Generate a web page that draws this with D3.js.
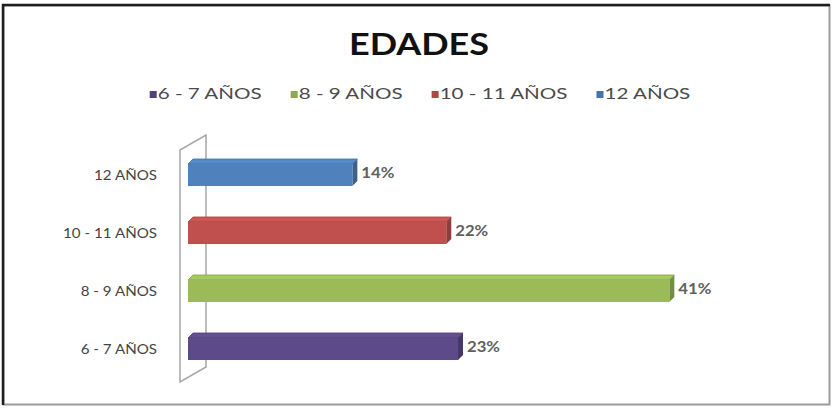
<!DOCTYPE html>
<html>
<head>
<meta charset="utf-8">
<script src="https://cdn.jsdelivr.net/npm/d3@7"></script>
<style>
  body { margin: 0; background: #fff; }
  text { font-family: Lato, "Open Sans", sans-serif; }
</style>
</head>
<body>
<div id="chart"></div>
<script>
// data
var categories = ["6 - 7 AÑOS", "8 - 9 AÑOS", "10 - 11 AÑOS", "12 AÑOS"];
var values = [23, 41, 22, 14];
var colors = ["#5d4a88", "#9bbb59", "#c0504d", "#4f81bd"];
var title = "EDADES";

var svg = d3.select("#chart")
  .append("svg")
  .attr("width", 834)
  .attr("height", 411);

// the picture is stretched sideways, so stretch the text the same way
function stretch(sel, k) {
  sel.each(function() {
    var w = this.getComputedTextLength();
    d3.select(this).attr("textLength", w * k).attr("lengthAdjust", "spacingAndGlyphs");
  });
}

// frame
svg.append("rect")
  .attr("x", 3.5).attr("y", 5.5)
  .attr("width", 826).attr("height", 399)
  .attr("fill", "#fff")
  .attr("stroke", "#9a9a9a")
  .attr("stroke-width", 2);
svg.append("path")
  .attr("d", "M3,405V5H830")
  .attr("fill", "none")
  .attr("stroke", "#1e1e1e")
  .attr("stroke-width", 2.5);

// title
svg.append("text")
  .attr("x", 419).attr("y", 55)
  .attr("text-anchor", "middle")
  .style("font-size", "30px")
  .style("font-weight", "bold")
  .attr("fill", "#111")
  .text(title)
  .call(stretch, 1.2);

var color = d3.scaleOrdinal().domain(categories).range(colors);

// legend
var legend = svg.append("g").attr("class", "legend");
var lx = 0;
categories.forEach(function(c) {
  var g = legend.append("g").attr("transform", "translate(" + lx + ",0)");
  g.append("rect")
    .attr("x", 0).attr("y", -8)
    .attr("width", 7).attr("height", 7)
    .attr("fill", d3.color(color(c)).darker(0.3));
  var t = g.append("text")
    .attr("x", 8).attr("y", 0)
    .style("font-size", "14.5px")
    .attr("fill", "#4a4a4a")
    .text(c)
    .call(stretch, 1.42);
  lx += 8 + +t.attr("textLength") + 29;
});
legend.attr("transform", "translate(" + (420 - (lx - 29) / 2) + ",99)");

// scales
var y = d3.scaleBand()
  .domain(categories.slice().reverse())
  .range([146, 378])
  .paddingInner(0.62)
  .paddingOuter(0.31);

var x = d3.scaleLinear()
  .domain([0, 50])
  .range([188, 188 + 587]);

// back wall
var wall = [[180, 150], [206, 135], [206, 367], [180, 382]];
svg.append("path")
  .attr("d", d3.line()(wall) + "Z")
  .attr("fill", "#fff")
  .attr("stroke", "#a6a6a6")
  .attr("stroke-width", 1.5);

// category axis labels
svg.append("g")
  .selectAll("text")
  .data(categories)
  .enter().append("text")
  .attr("x", 157)
  .attr("y", function(d) { return y(d) + y.bandwidth() / 2 + 5; })
  .attr("text-anchor", "end")
  .style("font-size", "13.5px")
  .attr("fill", "#444")
  .text(function(d) { return d; })
  .call(stretch, 1.12);

// 3d bars
var dx = 5, dy = -5;
var bars = svg.append("g")
  .selectAll("g.bar")
  .data(categories.map(function(c, i) { return {cat: c, value: values[i]}; }))
  .enter().append("g")
  .attr("class", "bar");

bars.append("path") // top
  .attr("d", function(d) {
    var x0 = x(0), x1 = x(d.value), y0 = y(d.cat);
    return "M" + x0 + "," + y0 + "L" + (x0 + dx) + "," + (y0 + dy) +
      "L" + (x1 + dx) + "," + (y0 + dy) + "L" + x1 + "," + y0 + "Z";
  })
  .attr("fill", function(d) { return d3.color(color(d.cat)).brighter(0.2); })
  .attr("stroke", function(d) { return d3.color(color(d.cat)).darker(0.4); })
  .attr("stroke-width", 0.8);

bars.append("path") // side
  .attr("d", function(d) {
    var x1 = x(d.value), y0 = y(d.cat), y1 = y0 + y.bandwidth();
    return "M" + x1 + "," + y0 + "L" + (x1 + dx) + "," + (y0 + dy) +
      "L" + (x1 + dx) + "," + (y1 + dy) + "L" + x1 + "," + y1 + "Z";
  })
  .attr("fill", function(d) { return d3.color(color(d.cat)).darker(0.8); });

bars.append("rect") // front
  .attr("x", x(0))
  .attr("y", function(d) { return y(d.cat); })
  .attr("width", function(d) { return x(d.value) - x(0); })
  .attr("height", y.bandwidth())
  .attr("fill", function(d) { return color(d.cat); });

bars.append("text")
  .attr("x", function(d) { return x(d.value) + dx + 4; })
  .attr("y", function(d) { return y(d.cat) + y.bandwidth() / 2 + 3; })
  .style("font-size", "14.5px")
  .style("font-weight", "bold")
  .attr("fill", "#606060")
  .text(function(d) { return d.value + "%"; })
  .call(stretch, 1.15);
</script>
</body>
</html>
